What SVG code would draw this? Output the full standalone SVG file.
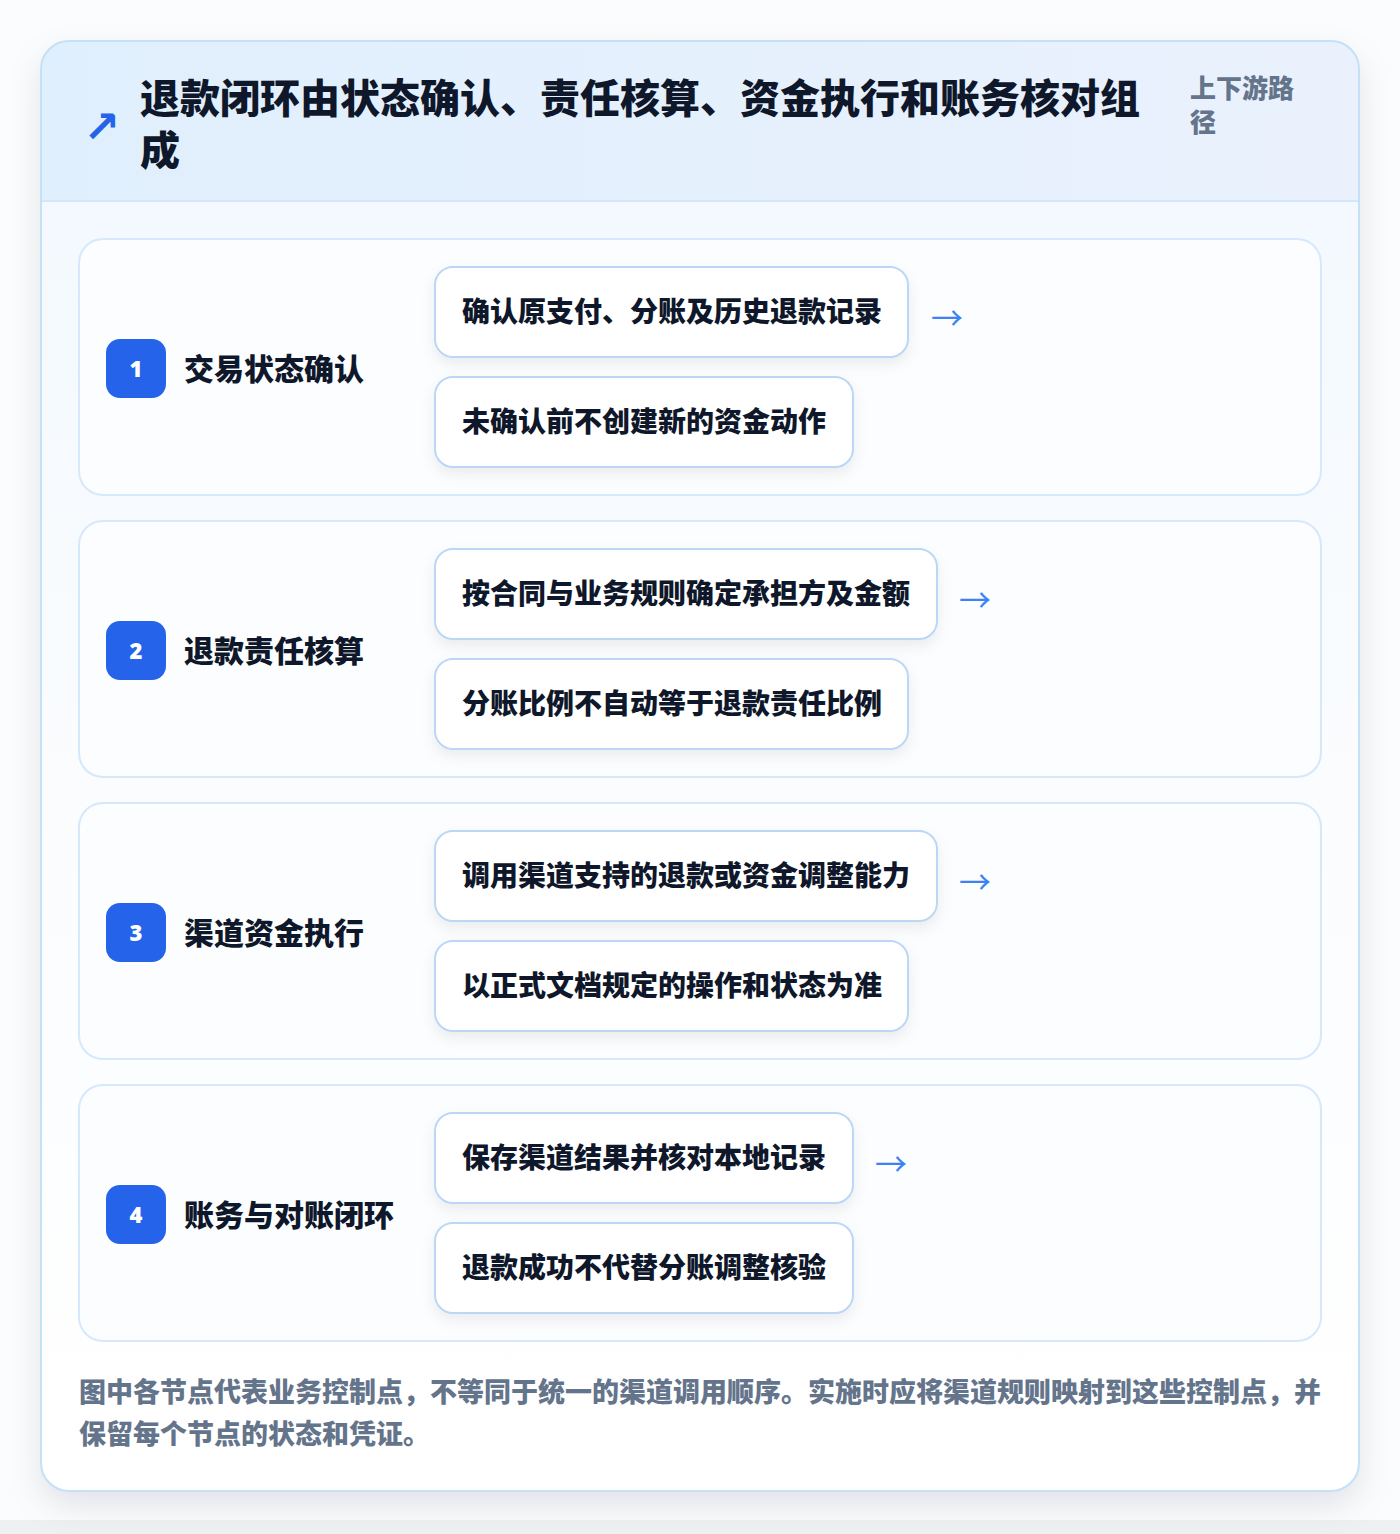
<svg xmlns="http://www.w3.org/2000/svg" width="1400" height="1534" viewBox="0 0 1400 1534">
<defs>
<linearGradient id="hdr" x1="0" y1="0" x2="1" y2="0">
<stop offset="0" stop-color="#e0effd"/>
<stop offset="1" stop-color="#eaf1fd"/>
</linearGradient>
<linearGradient id="body" x1="0" y1="0" x2="0" y2="1">
<stop offset="0" stop-color="#f1f8fe"/>
<stop offset="0.5" stop-color="#fafcfe"/>
<stop offset="1" stop-color="#ffffff"/>
</linearGradient>
<filter id="shadow" x="-10%" y="-10%" width="120%" height="120%">
<feDropShadow dx="0" dy="14" stdDeviation="16" flood-color="#0f172a" flood-opacity="0.10"/>
</filter>
<filter id="ishadow" x="-10%" y="-20%" width="120%" height="150%">
<feDropShadow dx="0" dy="6" stdDeviation="7" flood-color="#0f172a" flood-opacity="0.07"/>
</filter>
<clipPath id="cardclip"><rect x="41" y="41" width="1318" height="1450" rx="28"/></clipPath>
</defs>
<style>
text{font-family:"Noto Sans CJK SC","Noto Sans",sans-serif;}
.title{font-size:40px;font-weight:900;fill:#0f172a;}
.side{font-size:26px;font-weight:900;fill:#64748b;}
.sec{fill:#fbfdff;stroke:#d6e8fb;stroke-width:2;}
.badge{fill:#2563eb;}
.num{font-size:22px;font-weight:900;fill:#ffffff;text-anchor:middle;font-family:"Open Sans","Noto Sans",sans-serif;}
.lbl{font-size:30px;font-weight:900;fill:#0f172a;}
.item{fill:#ffffff;stroke:#bcd6f6;stroke-width:2;}
.itxt{font-size:28px;font-weight:900;fill:#0f172a;}
.arr{font-size:32px;fill:#3b82f6;}
.foot{font-size:27px;font-weight:900;fill:#64748b;}
</style>
<rect x="0" y="0" width="1400" height="1534" fill="#fbfcfd"/>
<rect x="0" y="1520" width="1400" height="14" fill="#eef0f2"/>
<g id="card">
<rect x="41" y="41" width="1318" height="1450" rx="28" fill="url(#body)" filter="url(#shadow)"/>
<g clip-path="url(#cardclip)">
<rect x="41" y="41" width="1318" height="160" fill="url(#hdr)"/>
<line x1="41" y1="201" x2="1359" y2="201" stroke="#d3e6fa" stroke-width="2"/>
</g>
<rect x="41" y="41" width="1318" height="1450" rx="28" fill="none" stroke="#c4e1f7" stroke-width="2"/>
</g>
<g id="header">
<text x="102" y="142" font-size="44" font-weight="700" fill="#2563eb" text-anchor="middle" style="font-family:'DejaVu Sans',sans-serif">↗</text>
<text class="title" x="140" y="113">退款闭环由状态确认、责任核算、资金执行和账务核对组</text>
<text class="title" x="140" y="165">成</text>
<text class="side" x="1190" y="98">上下游路</text>
<text class="side" x="1190" y="132">径</text>
</g>
<g id="step1">
<rect class="sec" x="79" y="239" width="1242" height="256" rx="24"/>
<rect class="badge" x="106" y="339" width="60" height="59" rx="14"/>
<text class="num" x="136" y="377">1</text>
<text class="lbl" x="184" y="380">交易状态确认</text>
<rect class="item" x="435" y="267" width="473" height="90" rx="18" filter="url(#ishadow)"/>
<text class="itxt" x="462" y="322">确认原支付、分账及历史退款记录</text>
<rect class="item" x="435" y="377" width="418" height="90" rx="18" filter="url(#ishadow)"/>
<text class="itxt" x="462" y="432">未确认前不创建新的资金动作</text>
</g>
<g id="step2">
<rect class="sec" x="79" y="521" width="1242" height="256" rx="24"/>
<rect class="badge" x="106" y="621" width="60" height="59" rx="14"/>
<text class="num" x="136" y="659">2</text>
<text class="lbl" x="184" y="662">退款责任核算</text>
<rect class="item" x="435" y="549" width="502" height="90" rx="18" filter="url(#ishadow)"/>
<text class="itxt" x="462" y="604">按合同与业务规则确定承担方及金额</text>
<rect class="item" x="435" y="659" width="473" height="90" rx="18" filter="url(#ishadow)"/>
<text class="itxt" x="462" y="714">分账比例不自动等于退款责任比例</text>
</g>
<g id="step3">
<rect class="sec" x="79" y="803" width="1242" height="256" rx="24"/>
<rect class="badge" x="106" y="903" width="60" height="59" rx="14"/>
<text class="num" x="136" y="941">3</text>
<text class="lbl" x="184" y="944">渠道资金执行</text>
<rect class="item" x="435" y="831" width="502" height="90" rx="18" filter="url(#ishadow)"/>
<text class="itxt" x="462" y="886">调用渠道支持的退款或资金调整能力</text>
<rect class="item" x="435" y="941" width="473" height="90" rx="18" filter="url(#ishadow)"/>
<text class="itxt" x="462" y="996">以正式文档规定的操作和状态为准</text>
</g>
<g id="step4">
<rect class="sec" x="79" y="1085" width="1242" height="256" rx="24"/>
<rect class="badge" x="106" y="1185" width="60" height="59" rx="14"/>
<text class="num" x="136" y="1223">4</text>
<text class="lbl" x="184" y="1226">账务与对账闭环</text>
<rect class="item" x="435" y="1113" width="418" height="90" rx="18" filter="url(#ishadow)"/>
<text class="itxt" x="462" y="1168">保存渠道结果并核对本地记录</text>
<rect class="item" x="435" y="1223" width="418" height="90" rx="18" filter="url(#ishadow)"/>
<text class="itxt" x="462" y="1278">退款成功不代替分账调整核验</text>
</g>
<g id="connectors">
<text class="arr" x="931" y="330">→</text>
<text class="arr" x="959" y="612">→</text>
<text class="arr" x="959" y="894">→</text>
<text class="arr" x="875" y="1176">→</text>
</g>
<g id="footer">
<text class="foot" x="79" y="1402">图中各节点代表业务控制点，不等同于统一的渠道调用顺序。实施时应将渠道规则映射到这些控制点，并</text>
<text class="foot" x="79" y="1444">保留每个节点的状态和凭证。</text>
</g>
</svg>
